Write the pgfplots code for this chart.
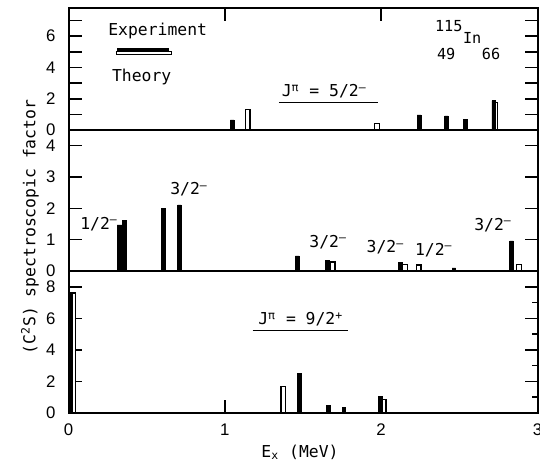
\documentclass[border=0pt]{standalone}
\usepackage{pgfplots}
\pgfplotsset{compat=1.18}
\usepackage{fontspec}
\setmainfont{Liberation Sans}
\newfontfamily\tw{DejaVu Sans Mono}
\newcommand\lab{\tw\fontsize{8.2}{9.5}\selectfont}

\pgfplotsset{
  panel/.style={
    width=234.5pt, scale only axis, xmin=0, xmax=3, ymin=0,
    axis line style={line width=1pt},
    tick align=inside, ytick pos=both,
    major tick length=6.5pt, minor tick length=3pt,
    every tick/.style={black, line width=0.8pt},
    /pgf/number format/assume math mode=true,
    ticklabel style={font=\fontsize{8.4}{9}\selectfont},
    yticklabel style={xshift=-3pt},
    clip=false,
  },
  expt/.style={ybar, bar shift=0pt, bar width=1.8pt, fill=black, draw=black, line width=0.3pt},
  thry/.style={ybar, bar shift=0pt, bar width=2.4pt, fill=white, draw=black, line width=0.6pt},
}
\tikzset{jl/.style={font=\lab, anchor=base west, inner sep=0pt}}

\begin{document}
\begin{tikzpicture}
% J = 9/2+
\begin{axis}[panel, at={(0,0)}, height=71pt, ymax=9,
  ytick={0,2,...,8}, minor ytick={1,3,5,7},
  xtick={0,1,2,3}, xtick pos=bottom,
  xticklabel style={yshift=-2pt}]
  \addplot[thry] coordinates {(0.028,7.6) (1.374,1.67) (2.015,0.87)};
  \addplot[expt] coordinates {(0.015,7.65) (1.476,2.51) (1.66,0.46) (1.762,0.36) (1.994,1.03)};
  \node[font=\lab, anchor=base] at (axis cs:1.486,5.58) {J\textsuperscript{π} = 9/2\textsuperscript{+}};
  \draw[line width=0.5pt] (axis cs:1.177,5.22) -- (axis cs:1.788,5.22);
\end{axis}
% 1/2- and 3/2-
\begin{axis}[panel, at={(0,71pt)}, height=70.5pt, ymax=4.5,
  ytick={0,...,4}, xtick=\empty]
  \addplot[thry] coordinates {(1.689,0.29) (2.153,0.22) (2.24,0.19) (2.882,0.21)};
  \addplot[expt] coordinates {(0.322,1.47) (0.333,1.47) (0.357,1.61) (0.608,2.0) (0.709,2.11)
    (1.463,0.48) (1.655,0.35) (2.124,0.27) (2.465,0.1) (2.834,0.96)};
  \node[jl] at (axis cs:0.073,1.34) {1/2\textsuperscript{–}};
  \node[jl] at (axis cs:0.649,2.43) {3/2\textsuperscript{–}};
  \node[jl] at (axis cs:1.539,0.76) {3/2\textsuperscript{–}};
  \node[jl] at (axis cs:1.905,0.58) {3/2\textsuperscript{–}};
  \node[jl] at (axis cs:2.214,0.51) {1/2\textsuperscript{–}};
  \node[jl] at (axis cs:2.593,1.29) {3/2\textsuperscript{–}};
\end{axis}
% J = 5/2-
\begin{axis}[panel, at={(0,141.5pt)}, height=61pt, ymax=7.8,
  ytick={0,...,7}, yticklabels={0,,2,,4,,6,},
  xtick={1,2}, xtick pos=top, xticklabels={}]
  \addplot[thry] coordinates {(1.145,1.32) (1.973,0.43) (2.728,1.75)};
  \addplot[expt] coordinates {(1.047,0.64) (2.242,0.96) (2.417,0.9) (2.54,0.7) (2.72,1.87)};
  \node[font=\lab, anchor=base] at (axis cs:1.636,2.13) {J\textsuperscript{π} = 5/2\textsuperscript{–}};
  \draw[line width=0.5pt] (axis cs:1.345,1.73) -- (axis cs:1.978,1.73);
  % legend
  \node[jl] at (axis cs:0.252,6.05) {Experiment};
  \node[jl] at (axis cs:0.276,3.09) {Theory};
  \draw[line width=0.5pt, fill=white] (axis cs:0.31,4.8) rectangle (axis cs:0.66,5.05);
  \fill[black] (axis cs:0.31,5.02) rectangle (axis cs:0.645,5.26);
  % nucleus
  \node[font=\tw\fontsize{7.6}{9}\selectfont, anchor=base west, inner sep=0pt] at (axis cs:2.342,6.27) {115};
  \node[font=\tw\fontsize{7.6}{9}\selectfont, anchor=base west, inner sep=0pt] at (axis cs:2.355,4.48) {49};
  \node[font=\tw\fontsize{7.6}{9}\selectfont, anchor=base west, inner sep=0pt] at (axis cs:2.521,5.56) {In};
  \node[font=\tw\fontsize{7.6}{9}\selectfont, anchor=base west, inner sep=0pt] at (axis cs:2.642,4.48) {66};
\end{axis}
\node[font=\lab, rotate=90] at (-19.25pt,93pt) {(C\textsuperscript{2}S) spectroscopic factor};
\node[font=\lab] at (115.75pt,-19.5pt) {E\textsubscript{x} (MeV)};
\pgfresetboundingbox
\path (-34.25pt,-28.5pt) rectangle (235.75pt,206.5pt);
\end{tikzpicture}
\end{document}
